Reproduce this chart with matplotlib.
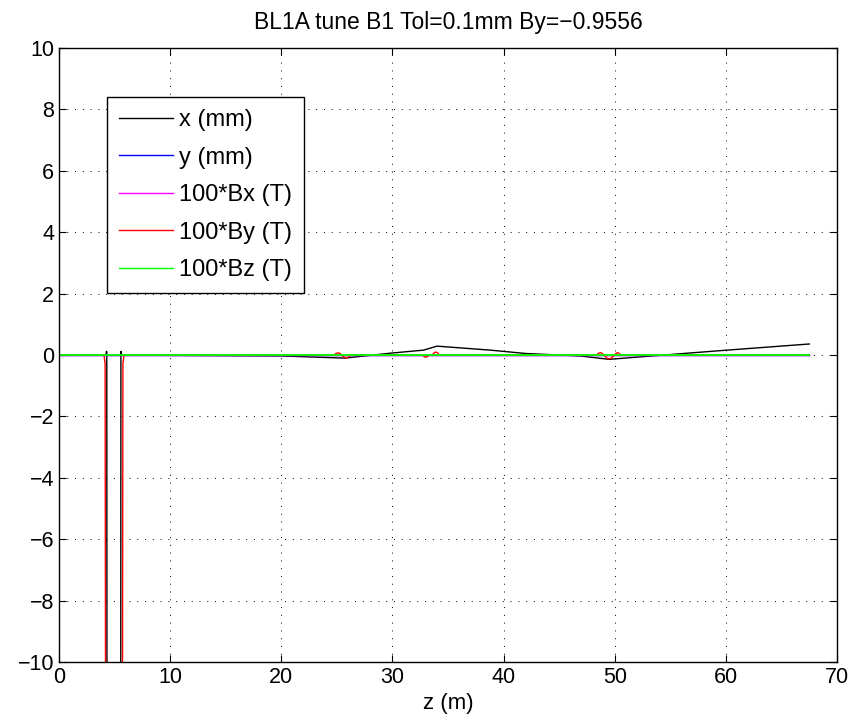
import matplotlib
matplotlib.use("Agg")
import matplotlib.pyplot as plt

plt.rcParams['font.family'] = ['Liberation Sans', 'DejaVu Sans']

# beam position x (mm) along z (m)
x_z = [0, 4.22, 4.27, 4.30, 4.32, 5.55, 5.57, 5.60, 10, 20, 25.7, 29.8, 32.8,
       34.0, 38.8, 42.0, 46.9, 49.5, 54.4, 60.1, 67.5]
x_mm = [0, 0, 0.12, 0.1, -15, -15, 0.12, 0, -0.01, -0.03, -0.1, 0.06, 0.16,
        0.29, 0.16, 0.05, -0.03, -0.14, 0.0, 0.16, 0.36]

# beam position y (mm)
y_z = [0, 10, 20, 30, 40, 50, 60, 67.5]
y_mm = [0, 0, 0, 0, 0, 0, 0, 0]

# field components scaled by 100 (T)
b_z = [0, 4.05, 4.15, 4.2, 5.7, 5.75, 5.85,
       24.8, 24.9, 25.1, 25.3, 25.4, 25.6, 25.75, 25.9, 26.05, 26.2,
       32.7, 32.85, 33.0, 33.15, 33.3, 33.6, 33.7, 33.9, 34.1, 34.2,
       48.4, 48.5, 48.7, 48.9, 49.0, 49.2, 49.35, 49.5, 49.65, 49.8,
       50.0, 50.1, 50.25, 50.4, 50.55, 50.7, 67.5]
bx = [0] * len(b_z)
by = [0, 0, -0.3, -15, -15, -0.3, 0,
      0, 0.05, 0.07, 0.05, 0, -0.05, -0.09, -0.1, -0.06, 0,
      0, -0.05, -0.07, -0.05, 0, 0, 0.06, 0.1, 0.06, 0,
      0, 0.05, 0.08, 0.05, 0, -0.06, -0.11, -0.12, -0.11, -0.06,
      0, 0.05, 0.08, 0.05, 0, 0, 0]
bz = [0] * len(b_z)

fig = plt.figure(figsize=(8.55, 7.22), dpi=100)
ax = fig.add_axes([0.069, 0.083, 0.91, 0.8505])

lw = 1.0
ax.plot(x_z, x_mm, color='black', lw=lw, label='x (mm)')
ax.plot(y_z, y_mm, color='blue', lw=lw, label='y (mm)')
ax.plot(b_z, bx, color='magenta', lw=lw, label='100*Bx (T)')
ax.plot(b_z, by, color='red', lw=lw, label='100*By (T)')
ax.plot(b_z, bz, color=(0, 1, 0), lw=1.3, label='100*Bz (T)')

ax.set_xlim(0, 70)
ax.set_ylim(-10, 10)
ax.set_xticks(range(0, 71, 10))
ax.set_yticks(range(-10, 11, 2))
ax.set_yticklabels([str(v).replace('-', '\u2212') for v in range(-10, 11, 2)])
ax.tick_params(direction='in', top=True, right=True, labelsize=15.5, length=5)
ax.grid(True, color='black', linestyle=(0, (1, 7)), linewidth=0.7)
for s in ax.spines.values():
    s.set_linewidth(1.0)

ax.set_title('BL1A tune B1 Tol=0.1mm By=\u22120.9556', fontsize=16.5, pad=14)
ax.set_xlabel('z (m)', fontsize=16, labelpad=4)

leg = ax.legend(loc='upper left', bbox_to_anchor=(0.062, 0.92), fontsize=17,
                fancybox=False, framealpha=1, edgecolor='black',
                handlelength=2.3, handletextpad=0.25, labelspacing=0.66,
                borderpad=0.5, borderaxespad=0)
leg.get_frame().set_linewidth(1.0)
for h in leg.get_lines():
    h.set_linewidth(1.0)

fig.savefig('out.png', dpi=100)
